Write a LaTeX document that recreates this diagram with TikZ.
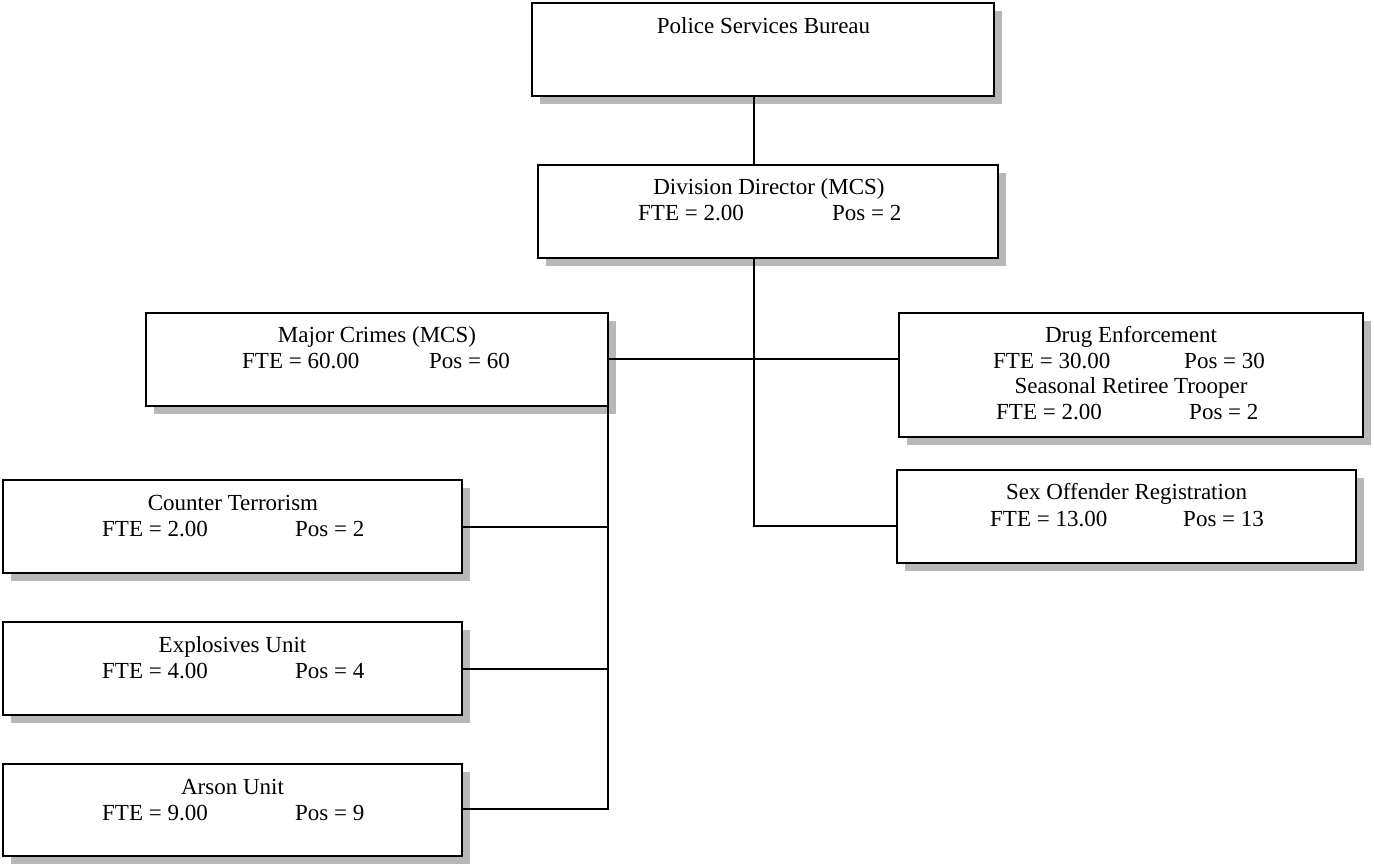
\documentclass[tikz,border=0pt]{standalone}
\usepackage{fontspec}
\setmainfont{Liberation Serif}
\usetikzlibrary{shadows}
\begin{document}
\begin{tikzpicture}[x=1pt,y=-1pt,
  unit/.style={draw, rectangle, line width=1.8pt, fill=white, inner sep=0pt,
    drop shadow={shadow xshift=8pt, shadow yshift=-8pt, fill=black!28, opacity=1}},
  link/.style={line width=2pt},
  txt/.style={inner sep=0pt, font=\fontsize{23}{26}\selectfont},
  ttl/.style={txt, anchor=base},
  fig/.style={txt, anchor=base west}]
\useasboundingbox (0,0) rectangle (1374,866);

% boxes
\node[unit, minimum width=462pt, minimum height=93pt] (psb) at (763,49.5) {};
\node[unit, minimum width=460pt, minimum height=93pt] (dd) at (768,211.5) {};
\node[unit, minimum width=462pt, minimum height=93pt] (mc) at (377,359.5) {};
\node[unit, minimum width=464pt, minimum height=124pt] (de) at (1131,375) {};
\node[unit, minimum width=459pt, minimum height=93pt] (so) at (1126.5,516.5) {};
\node[unit, minimum width=459pt, minimum height=93pt] (ct) at (232.5,526.5) {};
\node[unit, minimum width=459pt, minimum height=93pt] (ex) at (232.5,668.5) {};
\node[unit, minimum width=459pt, minimum height=92pt] (ar) at (232.5,810) {};

% connectors
\coordinate (trunk) at (754,526);
\coordinate (spine) at (608,809);
\draw[link] (psb.south -| trunk) -- (dd.north -| trunk);
\draw[link] (dd.south -| trunk) -- (trunk) -- (trunk -| so.west);
\draw[link] (mc.east) -- (mc.east -| de.west);
\draw[link] (mc.south -| spine) -- (spine) -- (spine -| ar.east);
\draw[link] (ct.east) -- (ct.east -| spine);
\draw[link] (ex.east) -- (ex.east -| spine);

% labels
\node[ttl] (psb-t) at (763.5,34) {Police Services Bureau};

\node[ttl] (dd-t) at (769,195) {Division Director (MCS)};
\node[fig] (dd-f) at (638,221) {FTE = 2.00};
\node[fig] (dd-p) at (832,221) {Pos = 2};

\node[ttl] (mc-t) at (377,343) {Major Crimes (MCS)};
\node[fig] (mc-f) at (242,369) {FTE = 60.00};
\node[fig] (mc-p) at (429,369) {Pos = 60};

\node[ttl] (de-t) at (1131,343) {Drug Enforcement};
\node[fig] (de-f) at (993,369) {FTE = 30.00};
\node[fig] (de-p) at (1184,369) {Pos = 30};
\node[ttl] (sr-t) at (1131,394) {Seasonal Retiree Trooper};
\node[fig] (sr-f) at (996,420) {FTE = 2.00};
\node[fig] (sr-p) at (1189,420) {Pos = 2};

\node[ttl] (so-t) at (1126.5,500) {Sex Offender Registration};
\node[fig] (so-f) at (990,526) {FTE = 13.00};
\node[fig] (so-p) at (1183,526) {Pos = 13};

\node[ttl] (ct-t) at (233,510) {Counter Terrorism};
\node[fig] (ct-f) at (102,536) {FTE = 2.00};
\node[fig] (ct-p) at (295,536) {Pos = 2};

\node[ttl] (ex-t) at (232.5,652) {Explosives Unit};
\node[fig] (ex-f) at (102,678) {FTE = 4.00};
\node[fig] (ex-p) at (295,678) {Pos = 4};

\node[ttl] (ar-t) at (232.5,794) {Arson Unit};
\node[fig] (ar-f) at (102,820) {FTE = 9.00};
\node[fig] (ar-p) at (295,820) {Pos = 9};
\end{tikzpicture}
\end{document}
